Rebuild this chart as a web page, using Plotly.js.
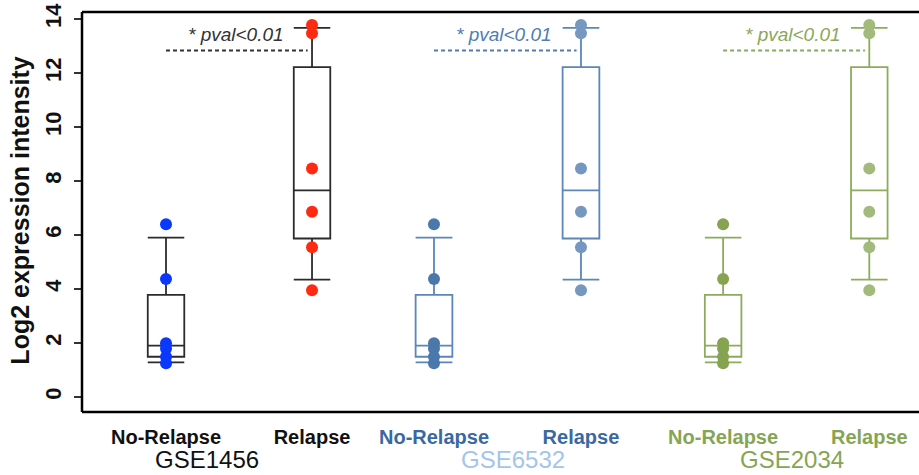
<!DOCTYPE html>
<html>
<head>
<meta charset="utf-8">
<script src="https://cdn.plot.ly/plotly-3.0.1.min.js"></script>
<style>html,body{margin:0;padding:0;background:#fff;}#chart{width:919px;height:475px;}</style>
</head>
<body>
<div id="chart"></div>
<script>
// ---- data ----
const groups = ["No-Relapse", "Relapse"];
const datasets = ["GSE1456", "GSE6532", "GSE2034"];

// individual sample points (same in all three panels)
const gse1456NoRelapse = [6.40, 4.37, 1.99, 1.80, 1.49, 1.25];
const gse1456Relapse   = [13.78, 13.47, 8.46, 6.86, 5.55, 3.95];
const gse6532NoRelapse = [6.40, 4.37, 1.99, 1.80, 1.49, 1.25];
const gse6532Relapse   = [13.78, 13.47, 8.46, 6.86, 5.55, 3.95];
const gse2034NoRelapse = [6.40, 4.37, 1.99, 1.80, 1.49, 1.25];
const gse2034Relapse   = [13.78, 13.47, 8.46, 6.86, 5.55, 3.95];

// box statistics [No-Relapse, Relapse]
const boxLower  = [1.28, 4.35];
const boxQ1     = [1.49, 5.87];
const boxMedian = [1.90, 7.65];
const boxQ3     = [3.78, 12.22];
const boxUpper  = [5.90, 13.67];

const pvalLabel = "* pval<0.01";
const pvalLineY = 12.83;
const yTickVals = [0, 2, 4, 6, 8, 10, 12, 14];

// ---- styles ----
const FONT = "Liberation Sans, Arial, Helvetica, sans-serif";
const panels = [
  {ax: "x",  pts: [gse1456NoRelapse, gse1456Relapse], line: "#2b2b2b", ptc: ["#0b38ff", "#ff2a12"], tick: "#111111", title: "#111111", pval: "#333333"},
  {ax: "x2", pts: [gse6532NoRelapse, gse6532Relapse], line: "#5a86b9", ptc: ["#4a78aa", "#7597c0"], tick: "#3a68a3", title: "#a3c5ea", pval: "#4f7db3"},
  {ax: "x3", pts: [gse2034NoRelapse, gse2034Relapse], line: "#8cab5c", ptc: ["#86a352", "#a3ba7d"], tick: "#86a553", title: "#86a553", pval: "#8aa85a"}
];

const traces = [];
const shapes = [];
const annotations = [];
const titleX = [0.1493, 0.5149, 0.8483];
const pvalX = [0.1840, 0.5045, 0.8500];

panels.forEach((p, i) => {
  traces.push({
    type: "box", xaxis: p.ax, yaxis: "y",
    x: groups, q1: boxQ1, median: boxMedian, q3: boxQ3,
    lowerfence: boxLower, upperfence: boxUpper,
    boxpoints: false, width: 0.25, whiskerwidth: 1,
    line: {color: p.line, width: 1.8}, fillcolor: "rgba(255,255,255,0)",
    showlegend: false, hoverinfo: "skip"
  });
  groups.forEach((g, k) => {
    traces.push({
      type: "scatter", mode: "markers", xaxis: p.ax, yaxis: "y",
      x: p.pts[k].map(() => g), y: p.pts[k],
      marker: {color: p.ptc[k], size: 12},
      showlegend: false, cliponaxis: false
    });
  });
  shapes.push({
    type: "line", xref: p.ax, yref: "y", x0: 0, x1: 0.97, y0: pvalLineY, y1: pvalLineY,
    line: {color: p.pval, width: 2, dash: "4px,3px"}
  });
  annotations.push({
    text: pvalLabel, xref: "paper", yref: "y", x: pvalX[i], y: 13.42,
    xanchor: "center", yanchor: "middle", showarrow: false,
    font: {family: FONT, size: 19, color: p.pval, style: "italic"}
  });
  annotations.push({
    text: datasets[i], xref: "paper", yref: "paper", x: titleX[i], y: -0.1175,
    xanchor: "center", yanchor: "middle", showarrow: false,
    font: {family: FONT, size: 24, color: p.title}
  });
});

annotations.push({
  text: "Log2 expression intensity", xref: "paper", yref: "paper",
  x: -0.0745, y: 0.505, xanchor: "center", yanchor: "middle", textangle: -90,
  showarrow: false, font: {family: FONT, size: 25, color: "#111111", weight: "bold"}
});

// frame (left, top, bottom)
shapes.push({type: "line", xref: "paper", yref: "paper", x0: 0, x1: 0, y0: 0, y1: 1, line: {color: "#000", width: 2.5}});
shapes.push({type: "line", xref: "paper", yref: "paper", x0: 0, x1: 1, y0: 1, y1: 1, line: {color: "#000", width: 2.5}});
shapes.push({type: "line", xref: "paper", yref: "paper", x0: 0, x1: 1, y0: 0, y1: 0, line: {color: "#000", width: 2.5}});

function xax(domain, range, color) {
  return {
    domain: domain, range: range, type: "category", categoryorder: "array", categoryarray: groups,
    showgrid: false, zeroline: false, showline: false,
    ticks: "outside", ticklen: 7, tickcolor: "rgba(0,0,0,0)",
    tickfont: {family: FONT, size: 20, color: color, weight: "bold"},
    anchor: "y", fixedrange: true
  };
}

const layout = {
  width: 919, height: 475,
  margin: {l: 82, r: 0, t: 12, b: 63},
  paper_bgcolor: "#ffffff", plot_bgcolor: "#ffffff",
  showlegend: false,
  xaxis:  xax([0.0306, 0.3446], [-0.4, 1.4], panels[0].tick),
  xaxis2: xax([0.3503, 0.6664], [-0.4, 1.4], panels[1].tick),
  xaxis3: xax([0.6961, 1.0], [-0.4, 1.34], panels[2].tick),
  yaxis: {
    anchor: "free", position: 0,
    range: [-0.556, 14.26], tickvals: yTickVals, ticktext: yTickVals.map(String),
    tickangle: -90, ticks: "outside", ticklen: 8, tickwidth: 1.5, tickcolor: "#333",
    ticklabelstandoff: 4,
    tickfont: {family: FONT, size: 22, color: "#111111", weight: "bold"},
    showgrid: false, zeroline: false, showline: false, fixedrange: true
  },
  shapes: shapes,
  annotations: annotations
};

Plotly.newPlot("chart", traces, layout, {displayModeBar: false, staticPlot: true});
</script>
</body>
</html>
